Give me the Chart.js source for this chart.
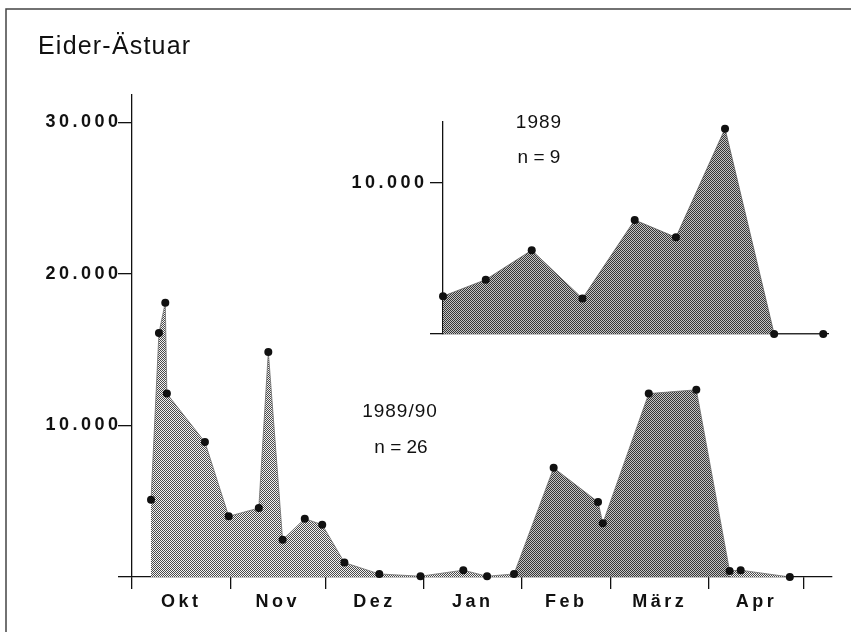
<!DOCTYPE html>
<html lang="de">
<head>
<meta charset="utf-8">
<title>Eider-Ästuar</title>
<script src="https://cdn.jsdelivr.net/npm/chart.js@4.4.1/dist/chart.umd.min.js"></script>
<style>
  html, body { margin: 0; padding: 0; background: #fff; }
  #wrap { position: relative; width: 855px; height: 635px; }
  #wrap canvas { position: absolute; left: 0; top: 0; }
</style>
</head>
<body>
<div id="wrap">
  <canvas id="season" width="855" height="635"></canvas>
  <canvas id="spring" width="855" height="635"></canvas>
</div>
<script>
// Zählsaison 1989/90: Tage seit 1. Oktober und gezählte Individuen
const monthNames = ['Okt', 'Nov', 'Dez', 'Jan', 'Feb', 'März', 'Apr'];
const monthStartDays = [0, 31, 61, 92, 123, 151, 182, 212];
const days8990 = [6, 8.5, 10.5, 11, 23, 30.5, 40, 43, 47.5, 54.5, 60, 67, 78, 91,
                  104.5, 112, 120.5, 133, 147, 148.5, 163, 178, 188.5, 192, 207.5];
const counts8990 = [5100, 16100, 18100, 12100, 8900, 4000, 4550, 14850, 2450, 3850, 3450, 950, 200, 50,
                    450, 50, 200, 7200, 4950, 3550, 12100, 12350, 400, 450, 0];
const yTicks8990 = [0, 10000, 20000, 30000];

// Frühjahr 1989: Tage seit der ersten Zählung
const days89 = [0, 13.5, 28, 44, 60.5, 73.5, 89, 104.5, 120];
const counts89 = [2500, 3600, 5550, 2350, 7550, 6400, 13600, 0, 0];
const yTicks89 = [0, 10000];

const FONT = "'Liberation Sans', Arial, Helvetica, sans-serif";

function checker(ctx, dark, light) {
  const c = document.createElement('canvas');
  c.width = 2; c.height = 2;
  const g = c.getContext('2d');
  g.fillStyle = light; g.fillRect(0, 0, 2, 2);
  g.fillStyle = dark; g.fillRect(0, 0, 1, 1); g.fillRect(1, 1, 1, 1);
  return ctx.createPattern(c, 'repeat');
}

function thousands(v) {
  return v === 0 ? '' : (v / 1000) + '.000';
}

// wide tracking for the bold axis lettering
const tracking = {
  id: 'tracking',
  beforeDraw(chart) { chart.ctx.letterSpacing = '3.5px'; },
  beforeDatasetsDraw(chart) { chart.ctx.letterSpacing = '0px'; }
};

function drawText(ctx, text, x, y, font, align, spacing) {
  ctx.save();
  ctx.font = font;
  ctx.fillStyle = '#111';
  ctx.letterSpacing = spacing || '0px';
  ctx.textAlign = align;
  ctx.textBaseline = 'alphabetic';
  ctx.fillText(text, x, y);
  ctx.restore();
}

const seasonCtx = document.getElementById('season').getContext('2d');
const lightFill = checker(seasonCtx, '#4a4a4a', '#f2f2f2');
const darkFill = checker(seasonCtx, '#363636', '#c4c4c4');

const frameAndLabels = {
  id: 'frameAndLabels',
  afterDraw(chart) {
    const ctx = chart.ctx;
    ctx.save();
    ctx.strokeStyle = '#444';
    ctx.lineWidth = 1.5;
    ctx.beginPath();
    ctx.moveTo(6, 632); ctx.lineTo(6, 9); ctx.lineTo(851, 9);
    ctx.stroke();
    ctx.restore();
    drawText(ctx, 'Eider-Ästuar', 38, 54, '25px ' + FONT, 'left', '1.2px');
    drawText(ctx, '1989/90', 400, 417, '19px ' + FONT, 'center', '1px');
    drawText(ctx, 'n = 26', 401, 453, '19px ' + FONT, 'center', '0px');
  }
};

const pts8990 = days8990.map((d, i) => ({ x: d, y: counts8990[i] }));
const xMax8990 = 220.8;
const tickFont = { family: FONT, size: 18, weight: 'bold' };

new Chart(seasonCtx, {
  type: 'line',
  data: {
    datasets: [{
      data: pts8990,
      fill: 'origin',
      backgroundColor: lightFill,
      borderColor: 'rgba(110,110,110,0.8)',
      borderWidth: 1,
      tension: 0,
      pointRadius: 4,
      pointBorderWidth: 0,
      pointBackgroundColor: '#111',
      clip: false,
      segment: {
        backgroundColor: c => (c.p0.parsed.x >= 120 && c.p1.parsed.x <= 189) ? darkFill : undefined
      }
    }]
  },
  options: {
    responsive: false,
    animation: false,
    devicePixelRatio: 1,
    events: [],
    layout: { padding: { left: 0, top: 95, right: 23, bottom: 16 } },
    plugins: { legend: { display: false }, tooltip: { enabled: false } },
    scales: {
      x: {
        type: 'linear', position: 'bottom', weight: 0,
        min: 0, max: xMax8990,
        afterBuildTicks: s => { s.ticks = monthStartDays.map(v => ({ value: v })); },
        afterFit: s => { s.height = 12; },
        ticks: { display: false },
        grid: { drawOnChartArea: false, drawTicks: true, tickLength: 12, color: '#111', lineWidth: 1.3 },
        border: { display: true, color: '#111', width: 1.3 }
      },
      months: {
        type: 'linear', position: 'bottom', weight: 1,
        min: 0, max: xMax8990,
        afterBuildTicks: s => {
          s.ticks = monthNames.map((m, i) => ({ value: (monthStartDays[i] + monthStartDays[i + 1]) / 2 }));
        },
        afterFit: s => { s.height = 30; },
        ticks: {
          autoSkip: false, maxRotation: 0, padding: 2,
          color: '#111',
          font: tickFont,
          callback: (v, i) => monthNames[i]
        },
        grid: { display: false, drawTicks: false },
        border: { display: false }
      },
      y: {
        type: 'linear', position: 'left',
        min: 0, max: 31800,
        afterBuildTicks: s => { s.ticks = yTicks8990.map(v => ({ value: v })); },
        afterFit: s => { s.width = 132; },
        ticks: {
          padding: -3.5,
          color: '#111',
          font: tickFont,
          callback: v => thousands(v)
        },
        grid: { drawOnChartArea: false, drawTicks: true, tickLength: 14, color: '#111', lineWidth: 1.3 },
        border: { display: true, color: '#111', width: 1.3 }
      }
    }
  },
  plugins: [tracking, frameAndLabels]
});

// Einsatz: Frühjahr 1989
const springCtx = document.getElementById('spring').getContext('2d');
const springFill = checker(springCtx, '#363636', '#c4c4c4');
const pts89 = days89.map((d, i) => ({ x: d, y: counts89[i] }));

const springLabels = {
  id: 'springLabels',
  afterDraw(chart) {
    drawText(chart.ctx, '1989', 539, 128, '19px ' + FONT, 'center', '1px');
    drawText(chart.ctx, 'n = 9', 539, 163, '19px ' + FONT, 'center', '0px');
  }
};

new Chart(springCtx, {
  type: 'line',
  data: {
    datasets: [{
      data: pts89,
      fill: 'origin',
      backgroundColor: springFill,
      borderColor: 'rgba(90,90,90,0.8)',
      borderWidth: 1,
      tension: 0,
      pointRadius: 4,
      pointBorderWidth: 0,
      pointBackgroundColor: '#111',
      clip: false
    }]
  },
  options: {
    responsive: false,
    animation: false,
    devicePixelRatio: 1,
    events: [],
    layout: { padding: { left: 0, top: 122, right: 27, bottom: 301 } },
    plugins: { legend: { display: false }, tooltip: { enabled: false } },
    scales: {
      x: {
        type: 'linear', position: 'bottom',
        min: 0, max: 121.5,
        afterFit: s => { s.height = 0; },
        ticks: { display: false },
        grid: { drawOnChartArea: false, drawTicks: false },
        border: { display: true, color: '#111', width: 1.3 }
      },
      y: {
        type: 'linear', position: 'left',
        min: 0, max: 14040,
        afterBuildTicks: s => { s.ticks = yTicks89.map(v => ({ value: v })); },
        afterFit: s => { s.width = 443; },
        ticks: {
          padding: 2.5,
          color: '#111',
          font: tickFont,
          callback: v => thousands(v)
        },
        grid: { drawOnChartArea: false, drawTicks: true, tickLength: 13, color: '#111', lineWidth: 1.3 },
        border: { display: true, color: '#111', width: 1.3 }
      }
    }
  },
  plugins: [tracking, springLabels]
});
</script>
</body>
</html>
